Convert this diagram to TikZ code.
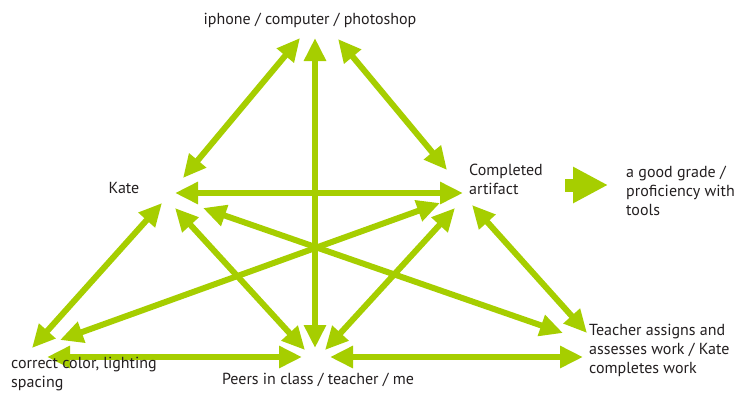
\documentclass[tikz,border=0pt]{standalone}
\usepackage{fontspec}
\setmainfont{PT Sans}
\usetikzlibrary{arrows.meta}
\definecolor{lime}{RGB}{166,206,0}
\definecolor{ink}{RGB}{35,31,32}
\tikzset{
  lbl/.style={font=\fontsize{16}{19}\selectfont, text=ink, inner sep=0pt},
  dbl/.style={draw=lime, line width=6pt, {Triangle[length=23pt,width=21pt]}-{Triangle[length=23pt,width=21pt]}},
  block/.style={draw=lime, line width=13pt, -{Triangle[length=35pt,width=34pt]}}
}
\begin{document}
\begin{tikzpicture}[x=1pt,y=-1pt]
\useasboundingbox (0,0) rectangle (735,392);
% arrow endpoints
\coordinate (tA) at (300,38);  \coordinate (kA) at (183,178);
\coordinate (tB) at (315,38);  \coordinate (pB) at (315,348);
\coordinate (tC) at (338,39);  \coordinate (cC) at (447,170);
\coordinate (kD) at (175,193); \coordinate (cD) at (463,193);
\coordinate (kE) at (162,203); \coordinate (oE) at (32,348);
\coordinate (kF) at (175,208); \coordinate (pF) at (305,350);
\coordinate (kG) at (203,208); \coordinate (rG) at (563,333);
\coordinate (cH) at (440,203); \coordinate (oH) at (60,340);
\coordinate (cI) at (455,208); \coordinate (pI) at (325,350);
\coordinate (cJ) at (472,205); \coordinate (rJ) at (587,333);
\coordinate (oK) at (47,357);  \coordinate (pK) at (302,357);
\coordinate (pL) at (330,357); \coordinate (rL) at (583,357);
\coordinate (bS) at (565,185); \coordinate (bE) at (608,185);
% connectors
\draw[dbl] (tA) -- (kA);
\draw[dbl] (tB) -- (pB);
\draw[dbl] (tC) -- (cC);
\draw[dbl] (kD) -- (cD);
\draw[dbl] (kE) -- (oE);
\draw[dbl] (kF) -- (pF);
\draw[dbl] (kG) -- (rG);
\draw[dbl] (cH) -- (oH);
\draw[dbl] (cI) -- (pI);
\draw[dbl] (cJ) -- (rJ);
\draw[dbl] (oK) -- (pK);
\draw[dbl] (pL) -- (rL);
\draw[block] (bS) -- (bE);
% text nodes
\node[lbl] (top) at (310,20) {iphone / computer / photoshop};
\node[lbl] (kate) at (124,188) {Kate};
\node[lbl, anchor=west, align=left] (comp) at (469,179) {Completed\\artifact};
\node[lbl, anchor=west, align=left] (grade) at (626,191) {a good grade /\\proficiency with\\tools};
\node[lbl, anchor=west, align=left] (color) at (11,374.5) {correct color, lighting\\spacing};
\node[lbl] (peers) at (318,380) {Peers in class / teacher / me};
\node[lbl, anchor=west, align=left] (teach) at (589,350) {Teacher assigns and\\assesses work / Kate\\completes work};
\end{tikzpicture}
\end{document}
